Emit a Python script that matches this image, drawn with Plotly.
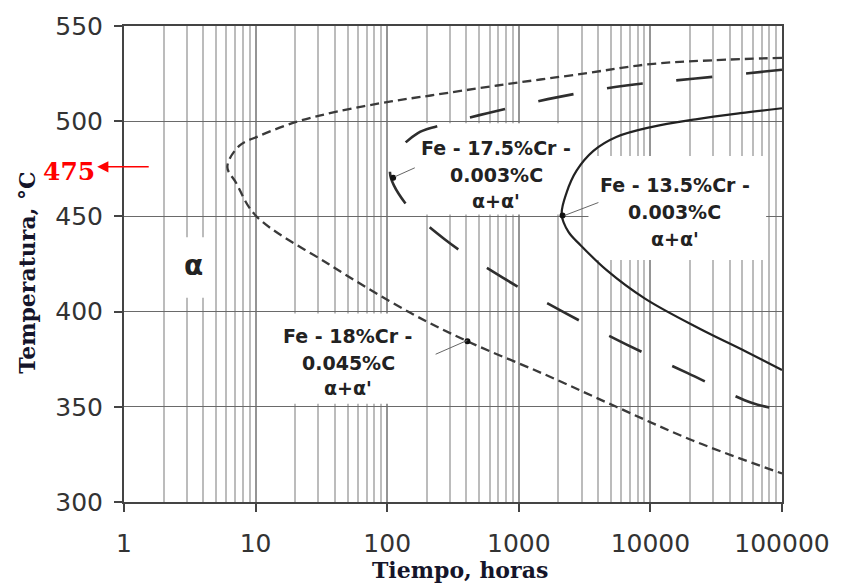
import plotly.graph_objects as go

# ---------------- data ----------------
# Fe - 18%Cr - 0.045%C  (short dashed C-curve), upper right -> nose -> lower right
t_18cr = [100000, 30000, 10000, 3100, 685, 214, 107, 42.6, 21.2, 10.6, 7.5, 6.1,
          7.1, 10, 35.8, 148.6, 407, 1550, 5505, 20950, 100000]
T_18cr = [533.3, 532, 530, 525, 518.75, 513.5, 510.4, 505.2, 500, 492.2, 487, 476,
          467.7, 450.5, 425, 399.5, 384.4, 367.2, 350, 332.3, 315]

# Fe - 17.5%Cr - 0.003%C  (long dashed C-curve)
t_175cr = [100000, 22000, 6540, 1941, 576, 241, 171, 120, 105,
           136, 273, 760, 2155, 6540, 19200, 59400, 100000]
T_175cr = [527, 522.4, 518.75, 512.5, 504.2, 497.4, 493.75, 484, 473,
           457.3, 438, 417.7, 400, 382.8, 367.7, 352, 348.5]

# Fe - 13.5%Cr - 0.003%C  (solid C-curve)
t_135cr = [100000, 48200, 22070, 10110, 5505, 3690, 2748, 2308, 2118,
           2391, 2946, 4625, 9100, 23700, 52600, 100000]
T_135cr = [506.8, 504.2, 501, 496.9, 491.7, 484.4, 474, 462.5, 451,
           441.7, 434.9, 421.9, 406.8, 391, 379.2, 369.3]

# marked points on the curves
dot_t = [111, 2150, 407]
dot_T = [470.3, 450.5, 384.4]

x_ticks = [1, 10, 100, 1000, 10000, 100000]
x_ticktext = ["1", "10", "100", "1000", "10000", "100000"]
x_minor = [m * 10 ** k for k in range(5) for m in range(2, 10)]
y_ticks = [300, 350, 400, 450, 500, 550]

labels = [
    ("Fe - 17.5%Cr -", "0.003%C", "α+α'"),
    ("Fe - 13.5%Cr -", "0.003%C", "α+α'"),
    ("Fe - 18%Cr -", "0.045%C", "α+α'"),
]

# ---------------- layout helpers (pixel -> plot-area fraction) ----------------
L, R, TOP, BOT = 124, 787, 22, 502
XR = [0, 5]        # log10 range of x axis
YR = [300, 550]
def fx(px):
    return (px - L) / (R - L)
def fy(py):
    return (BOT - py) / (BOT - TOP)
def fx_to_x(f):
    return 10 ** (XR[0] + (XR[1] - XR[0]) * f)
def fy_to_y(f):
    return YR[0] + (YR[1] - YR[0]) * f

fig = go.Figure()

# white masks behind labels (above grid, below curves)
for (x0, y0, x1, y1) in [(402, 120, 572, 212), (592, 153, 771, 258),
                         (262, 312, 425, 403), (178, 235, 212, 296)]:
    xa, xb = fx_to_x(fx(x0)), fx_to_x(fx(x1))
    ya, yb = fy_to_y(fy(y1)), fy_to_y(fy(y0))
    fig.add_trace(go.Scatter(x=[xa, xb, xb, xa, xa], y=[ya, ya, yb, yb, ya],
                             mode="lines", fill="toself", fillcolor="white",
                             line=dict(width=0, color="white"),
                             showlegend=False, hoverinfo="skip"))

fig.add_trace(go.Scatter(x=t_18cr, y=T_18cr, mode="lines",
                         line=dict(color="#3a3a3a", width=2.3, dash="9px,5px",
                                   shape="spline", smoothing=1.0),
                         showlegend=False, hoverinfo="skip"))
fig.add_trace(go.Scatter(x=t_175cr, y=T_175cr, mode="lines",
                         line=dict(color="#2e2e2e", width=2.6, dash="36px,34px",
                                   shape="spline", smoothing=1.0),
                         showlegend=False, hoverinfo="skip"))
fig.add_trace(go.Scatter(x=t_135cr, y=T_135cr, mode="lines",
                         line=dict(color="#222222", width=2.2,
                                   shape="spline", smoothing=1.0),
                         showlegend=False, hoverinfo="skip"))
fig.add_trace(go.Scatter(x=dot_t, y=dot_T, mode="markers",
                         marker=dict(color="#111111", size=6),
                         showlegend=False, hoverinfo="skip"))

shapes = []
# leader lines
for (x0, y0, x1, y1) in [(397, 174, 417, 165), (568, 213, 602, 200), (470, 339, 438, 353)]:
    shapes.append(dict(type="line", xref="paper", yref="paper",
                       x0=fx(x0), y0=fy(y0), x1=fx(x1), y1=fy(y1),
                       line=dict(color="#666666", width=1)))

annotations = []
label_pos = [(499, [145, 172, 198]), (679, [182, 210, 237]), (350, [335, 362, 387])]
for (cx, ys), lines in zip(label_pos, labels):
    for ly, txt in zip(ys, lines):
        annotations.append(dict(xref="paper", yref="paper", x=fx(cx), y=fy(ly),
                                text="<b>%s</b>" % txt, showarrow=False,
                                xanchor="center", yanchor="middle",
                                font=dict(family="DejaVu Sans", size=19, color="#222222")))
annotations.append(dict(xref="paper", yref="paper", x=fx(194), y=fy(264),
                        text="<b>α</b>", showarrow=False, xanchor="center", yanchor="middle",
                        font=dict(family="DejaVu Sans", size=28, color="#222222")))
# axis titles
annotations.append(dict(xref="paper", yref="paper", x=fx(463), y=fy(571),
                        text="<b>Tiempo, horas</b>", showarrow=False,
                        xanchor="center", yanchor="middle",
                        font=dict(family="DejaVu Serif", size=22, color="#15152a")))
annotations.append(dict(xref="paper", yref="paper", x=fx(26), y=fy(271),
                        text="<b>Temperatura, °C</b>", showarrow=False, textangle=-90,
                        xanchor="center", yanchor="middle",
                        font=dict(family="DejaVu Serif", size=22, color="#15152a")))
# red 475 marker
annotations.append(dict(xref="paper", yref="y", x=fx(69), y=475, yshift=-3,
                        text="<b>475</b>", showarrow=False,
                        xanchor="center", yanchor="middle",
                        font=dict(family="DejaVu Serif", size=25, color="#ff0000")))
annotations.append(dict(xref="paper", yref="y", x=fx(97), y=475, yshift=2, text="",
                        showarrow=True, ax=53, ay=0, arrowhead=2, arrowsize=1.4,
                        arrowwidth=1.6, arrowcolor="#ff0000"))

fig.update_layout(
    width=842, height=585,
    margin=dict(l=L, r=842 - R, t=TOP, b=585 - BOT, pad=0),
    paper_bgcolor="white", plot_bgcolor="white",
    shapes=shapes, annotations=annotations,
    xaxis=dict(type="log", range=XR, tickvals=x_ticks, ticktext=x_ticktext,
               showgrid=True, gridcolor="#959595", gridwidth=1.5,
               ticks="outside", ticklen=8, tickcolor="#444444", tickwidth=1.5,
               ticklabelstandoff=10,
               tickfont=dict(family="DejaVu Sans", size=25, color="#333333"),
               showline=True, linecolor="#444444", linewidth=2, mirror=True,
               minor=dict(tickvals=x_minor, showgrid=True, gridcolor="#bcbcbc",
                          gridwidth=1.5, ticks=""),
               zeroline=False),
    yaxis=dict(range=YR, tickvals=y_ticks,
               showgrid=True, gridcolor="#6a6a6a", gridwidth=1,
               ticks="outside", ticklen=8, tickcolor="#444444", tickwidth=1.5,
               ticklabelstandoff=6,
               tickfont=dict(family="DejaVu Sans", size=25, color="#333333"),
               showline=True, linecolor="#444444", linewidth=2, mirror=True,
               zeroline=False),
)

fig.write_html("out.html")
